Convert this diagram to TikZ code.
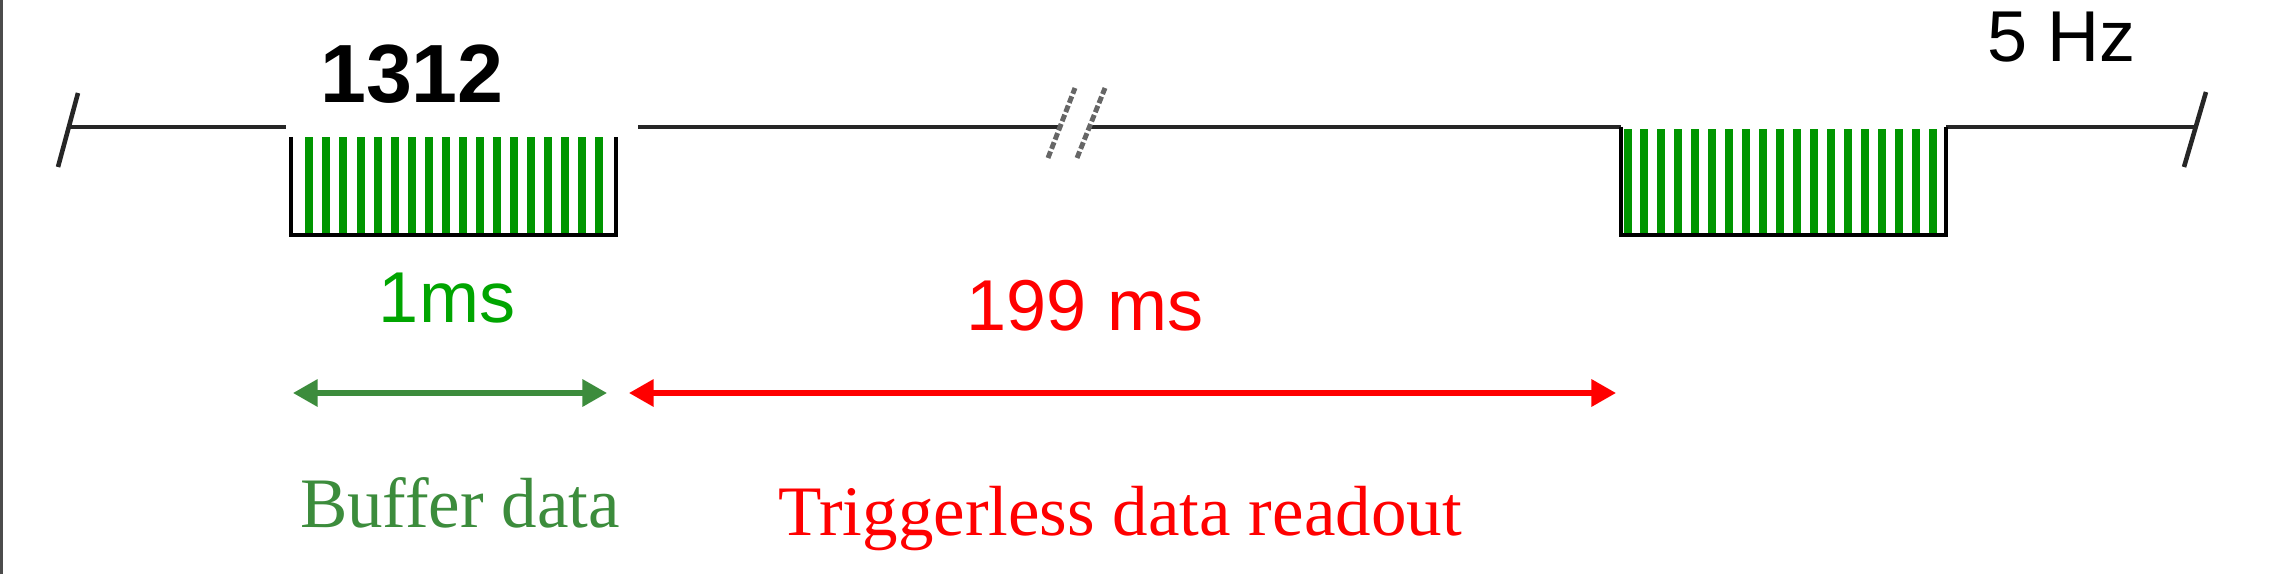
\documentclass[tikz,border=0pt]{standalone}
\usepackage{fontspec}
\setmainfont{Liberation Serif}
\newfontfamily\arialfont{Liberation Sans}
\usetikzlibrary{arrows.meta}

\definecolor{stripegreen}{RGB}{0,150,0}
\definecolor{timegreen}{RGB}{0,165,0}
\definecolor{bufgreen}{RGB}{60,140,60}
\definecolor{readred}{RGB}{255,0,0}

\tikzset{
	timeline/.style={line width=1.3pt, black!85},
	boxline/.style={line width=1.3pt, black},
	stripe/.style={line width=0.08cm, stripegreen},
	breakmark/.style={line width=1.4pt, black!60, dash pattern=on 2pt off 0.8pt},
	span/.style={line width=1.5pt, {Triangle[width=7.5pt,length=7pt]}-{Triangle[width=7.5pt,length=7pt]}},
	sanslabel/.style={inner sep=0pt, anchor=base, font=\arialfont\fontsize{20.5}{24}\selectfont},
	seriflabel/.style={inner sep=0pt, anchor=base, font=\fontsize{20.2}{24}\selectfont}
}

\begin{document}
\begin{tikzpicture}
	\useasboundingbox (0,0) rectangle (22.8,5.74);
	\draw[line width=0.03cm, black!70] (0.015,0) -- (0.015,5.74);
	
	% time line with end ticks and break
	\draw[timeline] (0.58,4.07) -- (0.78,4.81);
	\draw[timeline] (21.84,4.07) -- (22.06,4.82);
	\draw[timeline] (0.69,4.47) -- (2.86,4.47);
	\draw[timeline] (6.38,4.47) -- (10.60,4.47);
	\draw[timeline] (10.89,4.47) -- (16.21,4.47);
	\draw[timeline] (19.46,4.47) -- (21.96,4.47);
	\draw[breakmark] (10.48,4.16) -- (10.75,4.86);
	\draw[breakmark] (10.77,4.16) -- (11.05,4.86);
	
	% first burst
	\foreach \x in {0,...,17}
		\draw[stripe] ({3.093+0.1707*\x},3.41) -- ++(0,0.96);
	\draw[boxline] (2.91,4.37) -- (2.91,3.39) -- (6.16,3.39) -- (6.16,4.37);
	
	% second burst
	\foreach \x in {0,...,18}
		\draw[stripe] ({16.275+0.1697*\x},3.41) -- ++(0,1.04);
	\draw[boxline] (16.21,4.47) -- (16.21,3.39) -- (19.46,3.39) -- (19.46,4.47);
	
	\node[sanslabel, font=\arialfont\bfseries\fontsize{23.5}{28}\selectfont] (nhits) at (4.12,4.71){1312};
	\node[sanslabel] (freq) at (20.62,5.12){5 Hz};
	\node[sanslabel, timegreen] (tbuf) at (4.47,2.52){1ms};
	\node[sanslabel, readred] (tread) at (10.85,2.44){199 ms};
	
	\coordinate (bufL) at (2.93,1.81);
	\coordinate (bufR) at (6.07,1.81);
	\coordinate (readL) at (6.29,1.81);
	\coordinate (readR) at (16.16,1.81);
	\draw[span, bufgreen] (bufL) -- (bufR);
	\draw[span, readred] (readL) -- (readR);
	
	\node[seriflabel, bufgreen] (lbuf) at (4.60,0.47){Buffer data};
	\node[seriflabel, readred] (lread) at (11.20,0.39){Triggerless data readout};
\end{tikzpicture}
\end{document}
